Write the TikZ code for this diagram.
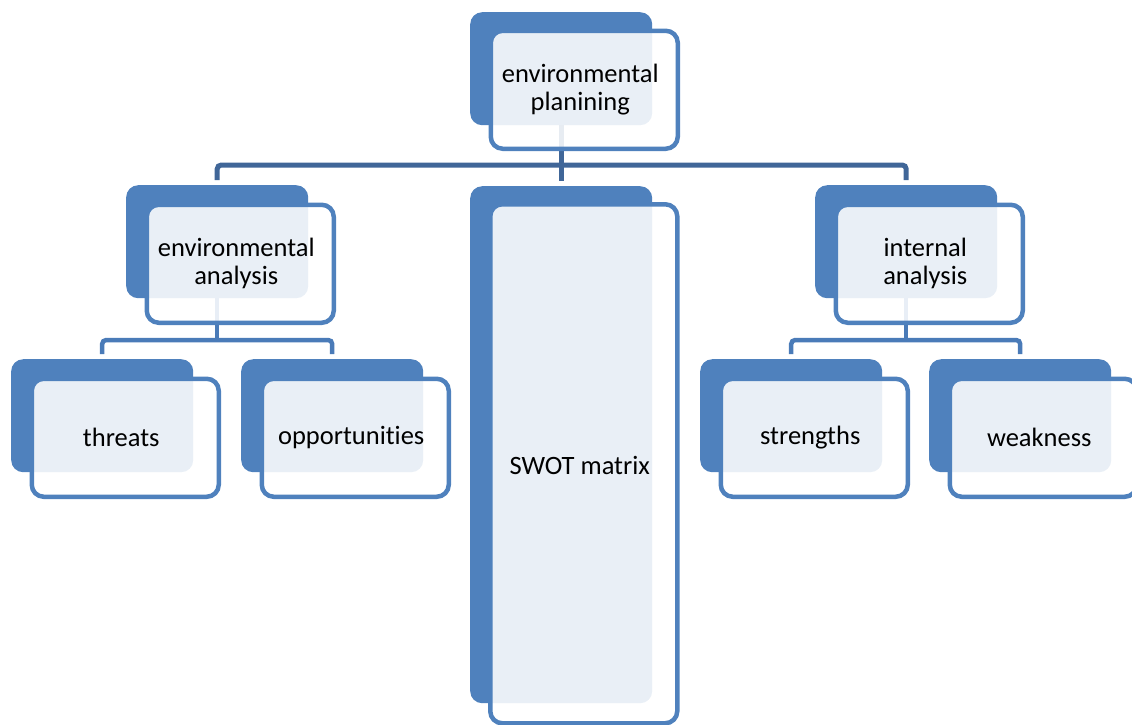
\documentclass[tikz,border=0pt]{standalone}
\usepackage{fontspec}
\setmainfont{Carlito}[Ligatures={NoCommon}]
\definecolor{accent}{RGB}{79,129,189}
\definecolor{connA}{RGB}{64,102,152}
\definecolor{connB}{RGB}{74,123,184}
\tikzset{
  backbox/.style={fill=accent, draw=none, rounded corners=12pt, minimum width=182pt,
    minimum height=113pt, anchor=north west, inner sep=0pt},
  frontbox/.style={fill=white, fill opacity=0.88, draw=accent,
    line width=4.5pt, rounded corners=12pt, minimum width=187pt, minimum height=118pt,
    anchor=north west, inner sep=0pt},
  boxtext/.style={align=center, inner sep=0pt, text=black,
    font=\fontsize{26.5}{28}\selectfont},
  busA/.style={draw=connA, line width=5pt, rounded corners=4pt},
  busB/.style={draw=connB, line width=4.5pt, rounded corners=4pt},
}
\begin{document}
\begin{tikzpicture}[x=1pt,y=-1pt]
\useasboundingbox (0,0) rectangle (1132,724);
% back shapes
\node[backbox] (tb) at (470,12) {};
\node[backbox] (eab) at (126,185) {};
\node[backbox, minimum height=517pt] (sb) at (470,186) {};
\node[backbox] (iab) at (815,185) {};
\node[backbox] (thb) at (11,359) {};
\node[backbox] (opb) at (241,359) {};
\node[backbox] (stb) at (700,359) {};
\node[backbox] (web) at (929,359) {};
% bus lines
\coordinate (busA) at (0,165);
\coordinate (busB) at (0,340);
\draw[busA, shorten >=5pt] (tb.south) -- (sb.north);
\draw[busA, shorten <=5pt, shorten >=5pt] (eab.north) -- (eab.north |- busA) -- (iab.north |- busA) -- (iab.north);
\draw[busB] (eab.south) -- (eab.south |- busB);
\draw[busB, shorten <=5pt, shorten >=5pt] (thb.north) -- (thb.north |- busB) -- (opb.north |- busB) -- (opb.north);
\draw[busB] (iab.south) -- (iab.south |- busB);
\draw[busB, shorten <=5pt, shorten >=5pt] (stb.north) -- (stb.north |- busB) -- (web.north |- busB) -- (web.north);
% front shapes
\node[frontbox] (tf) at ([xshift=18.5pt,yshift=-16.5pt]tb.north west) {};
\node[frontbox] (eaf) at ([xshift=18.5pt,yshift=-17.5pt]eab.north west) {};
\node[frontbox, minimum height=519pt] (sf) at ([xshift=18pt,yshift=-16pt]sb.north west) {};
\node[frontbox] (iaf) at ([xshift=18.5pt,yshift=-17.5pt]iab.north west) {};
\node[frontbox] (thf) at ([xshift=18.5pt,yshift=-17.5pt]thb.north west) {};
\node[frontbox] (opf) at ([xshift=18.5pt,yshift=-17.5pt]opb.north west) {};
\node[frontbox] (stf) at ([xshift=18.5pt,yshift=-17.5pt]stb.north west) {};
\node[frontbox] (wef) at ([xshift=18.5pt,yshift=-17.5pt]web.north west) {};
% texts
\node[boxtext] (tft) at ([xshift=-4pt]tf.center) {environmental\\planining};
\node[boxtext] (eaft) at ([xshift=-4pt]eaf.center) {environmental\\analysis};
\node[boxtext] (sft) at ([xshift=-4pt,yshift=-2pt]sf.center) {SWOT matrix};
\node[boxtext] (iaft) at ([xshift=-4pt]iaf.center) {internal\\analysis};
\node[boxtext] (thft) at ([xshift=-4pt]thf.center) {threats};
\node[boxtext] (opft) at ([xshift=-4pt]opf.center) {opportunities};
\node[boxtext] (stft) at ([xshift=-4pt]stf.center) {strengths};
\node[boxtext] (weft) at ([xshift=-4pt]wef.center) {weakness};
\end{tikzpicture}
\end{document}
